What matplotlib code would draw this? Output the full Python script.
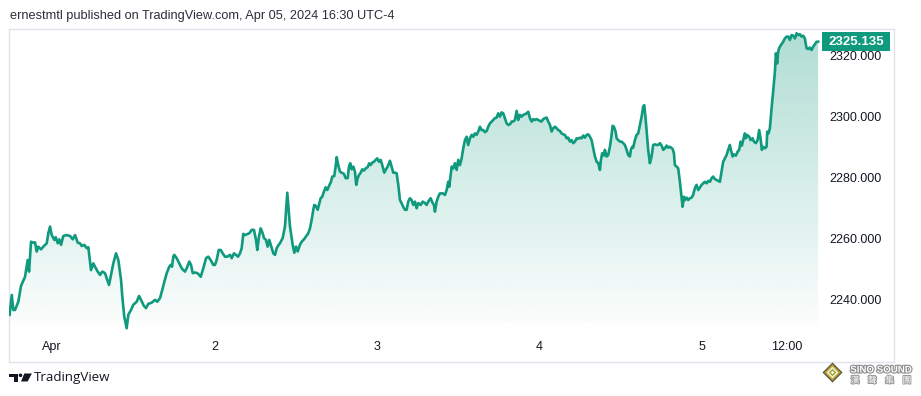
import numpy as np
import matplotlib
matplotlib.use("Agg")
import matplotlib.pyplot as plt
import matplotlib.transforms as mtransforms
from matplotlib.patches import Polygon, Circle, Rectangle
import matplotlib.patheffects as pe

# trading hours since the session open (Mar 31 18:00 ET), 23 trading hours per day
hours = [
    0.0, 0.30, 0.52, 0.76, 1.23, 1.61, 2.18, 2.56, 2.75, 3.03, 3.35, 3.60, 3.84, 4.06, 4.44, 4.77,
    5.25, 5.48, 5.72, 5.96, 6.33, 6.53, 6.81, 7.03, 7.28, 7.60, 8.08, 8.55, 8.93, 9.26, 9.64, 9.96,
    10.21, 10.57, 10.91, 11.14, 11.52, 11.85, 12.09, 12.47, 12.80, 13.12, 13.50, 13.74, 14.07, 14.35,
    14.68, 15.06, 15.39, 15.77, 15.95, 16.23, 16.57, 16.80, 17.18, 17.51, 17.75, 17.99, 18.32, 18.60,
    19.02, 19.31, 19.63, 20.11, 20.58, 20.91, 21.29, 21.67,
    21.85, 22.24, 22.60, 22.80, 22.99, 23.17, 23.31, 23.65, 24.02, 24.36, 24.59, 24.83, 25.07, 25.43,
    25.68, 25.92, 26.24, 26.57, 26.85, 27.05, 27.42, 27.80, 28.12, 28.46, 28.83, 29.07, 29.31, 29.60,
    29.88, 30.16, 30.49, 30.81, 31.20, 31.44, 31.76, 32.04, 32.33, 32.61, 32.85, 33.08, 33.32, 33.64,
    33.93, 34.27, 34.59, 34.88, 35.06, 35.30, 35.54, 35.82, 36.01, 36.29, 36.53, 36.76, 37.10, 37.33,
    37.57, 37.81, 38.09,
    38.27, 38.65, 38.98, 39.31, 39.69, 40.07, 40.30, 40.54, 40.78, 41.10, 41.34, 41.67, 41.95, 42.28,
    42.52, 42.76, 42.99, 43.13, 43.33, 43.61, 43.79,
    44.03, 44.26, 44.50, 44.74, 44.97, 45.21, 45.49, 45.68, 45.96, 46.16, 46.30, 46.52, 46.77, 47.01,
    47.33, 47.57, 47.86, 48.04, 48.22, 48.42, 48.65, 48.89, 49.07, 49.27, 49.45, 49.70, 49.92, 50.16,
    50.40, 50.69, 50.91, 51.11, 51.34, 51.58, 51.82, 52.05, 52.29, 52.53, 52.75, 53.04, 53.28, 53.52,
    53.84, 54.08, 54.31, 54.55, 54.79, 55.02, 55.26, 55.50, 55.72, 55.97, 56.21, 56.43,
    56.67, 56.91, 57.14, 57.38, 57.62, 57.85, 58.19, 58.47, 58.80, 59.04, 59.26, 59.60, 59.89, 60.07,
    60.21, 60.45, 60.68, 60.92, 61.30, 61.63, 61.87, 62.09, 62.24, 62.43, 62.58, 62.80, 63.04, 63.28,
    63.51, 63.75, 63.99, 64.22, 64.46, 64.70, 64.92, 65.17, 65.41, 65.63, 65.87, 66.11, 66.34, 66.58,
    66.82, 67.05, 67.29, 67.53, 67.76, 68.00, 68.24, 68.46, 68.70, 68.94, 69.17, 69.41, 69.65, 69.88,
    70.12, 70.36, 70.59, 70.83, 71.07, 71.29, 71.53, 71.78, 72.00, 72.24, 72.48, 72.71, 72.95, 73.19,
    73.42, 73.66, 73.90, 74.13, 74.37, 74.61, 74.83, 75.07, 75.31, 75.54, 75.78,
    76.02, 76.25, 76.49, 76.73, 76.96, 77.20, 77.44, 77.66, 77.90, 78.14, 78.37, 78.61, 78.85, 79.08,
    79.32, 79.56, 79.79, 80.03, 80.27, 80.49, 80.73, 80.98, 81.20, 81.44, 81.68, 81.91, 82.15, 82.39,
    82.62, 82.86, 83.10, 83.33, 83.57, 83.71, 83.89, 84.13, 84.27, 84.51, 84.74, 84.98, 85.22, 85.36,
    85.55, 85.79, 85.93, 86.16, 86.40, 86.64, 86.86, 87.10, 87.35, 87.57, 87.81, 87.95, 88.14, 88.28,
    88.52, 88.76, 88.99, 89.23, 89.47, 89.69, 89.84, 90.03, 90.18, 90.40, 90.64, 90.88, 91.11, 91.35,
    91.59, 91.82, 92.06, 92.30, 92.53, 92.77, 93.01, 93.23, 93.47,
    93.86, 94.04, 94.18, 94.42, 94.65, 94.89, 95.13, 95.27, 95.46, 95.60, 95.84, 96.06, 96.30, 96.55,
    96.77, 97.01, 97.25, 97.48, 97.72, 97.96, 98.19, 98.43, 98.67, 98.90, 99.14, 99.38, 99.60, 99.84,
    100.08, 100.31, 100.55, 100.79, 101.02, 101.26, 101.50, 101.73, 101.97, 102.11, 102.35, 102.53,
    102.82, 103.06, 103.28, 103.48, 103.66, 103.85, 104.09, 104.23, 104.41, 104.70, 104.90, 105.18,
    105.36, 105.65, 105.89, 106.11, 106.31, 106.49, 106.68, 106.92, 107.16, 107.25, 107.44, 107.63,
    107.87, 108.09, 108.34, 108.48, 108.66, 108.80, 108.94, 109.18, 109.51, 109.75, 109.99, 110.22,
    110.46, 110.70, 110.93, 111.17, 111.41, 111.63, 111.87, 112.11, 112.34, 112.58, 112.82, 113.05,
    113.29, 113.53, 113.76, 114.00, 114.24, 114.46,
]

prices = [
    2235.4, 2241.9, 2237.0, 2237.0, 2239.7, 2244.9, 2247.9, 2253.4, 2249.6, 2259.4, 2259.1, 2259.2, 2256.2, 2257.8, 2256.9, 2257.8,
    2258.9, 2262.2, 2264.4, 2261.6, 2260.0, 2260.9, 2258.9, 2260.2, 2258.4, 2261.3, 2261.6, 2261.3, 2260.2, 2261.6, 2259.1, 2258.9,
    2258.0, 2258.4, 2257.3, 2257.6, 2250.1, 2252.3, 2251.2, 2249.6, 2248.5, 2249.6, 2249.1, 2247.4, 2245.2, 2248.5,
    2252.3, 2255.6, 2253.4, 2246.9, 2241.4, 2234.8, 2231.0, 2235.4, 2237.0, 2238.7, 2239.2, 2239.7, 2241.6, 2240.3,
    2238.3, 2237.6, 2239.0, 2239.4, 2240.3, 2239.7, 2240.9, 2244.1,
    2245.8, 2249.1, 2251.2, 2251.8, 2251.2, 2254.5, 2255.1, 2254.0, 2252.3, 2250.7, 2250.1, 2249.6, 2250.7, 2252.9,
    2251.8, 2249.1, 2249.3, 2249.1, 2248.5, 2247.9, 2250.7, 2254.0, 2254.5, 2253.4, 2251.8, 2251.8, 2253.4, 2256.7,
    2256.7, 2255.6, 2254.5, 2254.5, 2255.1, 2254.0, 2255.6, 2255.1, 2254.5, 2255.6, 2257.3, 2262.0, 2261.6, 2261.9,
    2262.2, 2263.3, 2263.3, 2260.0, 2256.7, 2261.1, 2263.8, 2262.2, 2260.6, 2260.0, 2257.8, 2260.0, 2257.3, 2255.6,
    2255.1, 2257.3, 2258.4,
    2258.9, 2260.6, 2264.4, 2275.5, 2264.4, 2258.4, 2255.8, 2257.8, 2256.2, 2258.4, 2259.4, 2260.2, 2261.1, 2262.2,
    2263.8, 2266.6, 2269.9, 2271.5, 2271.2, 2269.9, 2271.5,
    2273.7, 2274.2, 2275.9, 2277.3, 2276.4, 2277.7, 2279.1, 2280.8, 2281.0, 2284.3, 2287.2, 2284.6, 2282.4, 2282.1,
    2281.7, 2280.3, 2280.3, 2284.1, 2285.2, 2283.2, 2284.1, 2282.4, 2278.1, 2280.3, 2281.3, 2282.1, 2283.2, 2282.8,
    2283.5, 2283.9, 2285.2, 2284.6, 2285.4, 2285.7, 2286.3, 2286.8, 2285.7, 2286.3, 2284.6, 2282.1, 2283.2, 2284.1,
    2286.0, 2284.1, 2282.1, 2282.1, 2281.9, 2278.1, 2273.1, 2272.0, 2270.9, 2269.9, 2269.9, 2272.6,
    2273.7, 2273.1, 2271.5, 2272.6, 2270.4, 2272.1, 2271.5, 2272.6, 2272.1, 2271.5, 2272.6, 2273.7, 2272.1, 2271.5,
    2269.3, 2272.6, 2274.2, 2275.3, 2275.3, 2274.8, 2276.4, 2279.1, 2277.5, 2281.3, 2284.1, 2283.5, 2285.2, 2283.0,
    2286.3, 2284.6, 2286.8, 2290.1, 2292.8, 2293.9, 2291.2, 2293.4, 2294.5, 2293.9, 2295.0, 2294.5, 2295.6, 2297.2,
    2296.1, 2296.1, 2295.4, 2295.8, 2297.2, 2298.3, 2298.9, 2299.4, 2300.0, 2300.2, 2301.6, 2300.5, 2301.9, 2301.6,
    2300.0, 2298.3, 2297.8, 2298.0, 2298.9, 2298.9, 2299.4, 2302.4, 2299.4, 2301.1, 2300.5, 2301.1, 2301.3, 2301.6,
    2302.1, 2300.0, 2298.9, 2299.7, 2299.4, 2299.7, 2299.4, 2299.1, 2298.9, 2299.7, 2300.0,
    2300.2, 2298.9, 2297.8, 2295.6, 2296.7, 2297.2, 2296.7, 2296.1, 2295.8, 2295.0, 2294.7, 2294.5, 2293.4, 2293.6,
    2292.3, 2292.8, 2291.8, 2292.3, 2293.4, 2293.2, 2293.6, 2293.4, 2294.3, 2293.6, 2294.5, 2294.7, 2293.9, 2292.8,
    2290.1, 2287.4, 2285.7, 2285.2, 2283.0, 2286.3, 2288.5, 2287.7, 2289.6, 2287.4, 2287.9, 2290.6, 2294.5, 2297.5,
    2297.2, 2295.6, 2293.4, 2292.8, 2292.3, 2292.3, 2291.8, 2291.2, 2289.6, 2287.9, 2287.4, 2289.6, 2290.6, 2290.3,
    2292.8, 2294.5, 2295.0, 2297.8, 2300.5, 2303.8, 2304.3, 2300.0, 2295.6, 2289.6, 2285.2, 2287.4, 2291.2, 2291.4,
    2291.2, 2291.2, 2291.8, 2291.0, 2289.6, 2290.1, 2291.0, 2290.3, 2290.6,
    2289.9, 2288.5, 2284.6, 2284.1, 2283.5, 2279.1, 2273.7, 2270.9, 2274.2, 2273.1, 2273.9, 2273.1, 2273.7, 2273.9,
    2274.8, 2277.0, 2278.1, 2276.4, 2277.2, 2278.1, 2278.6, 2279.1, 2278.6, 2279.4, 2279.1, 2280.3, 2280.8, 2280.0,
    2279.7, 2279.4, 2279.1, 2282.4, 2285.7, 2286.8, 2287.9, 2289.6, 2291.2, 2289.6, 2287.4, 2288.1,
    2287.7, 2289.0, 2289.6, 2292.3, 2291.0, 2292.8, 2295.0, 2293.4, 2294.5, 2293.9, 2292.8, 2293.4,
    2292.3, 2291.8, 2292.8, 2296.1, 2293.4, 2289.6, 2290.6, 2290.1, 2290.6, 2295.6, 2295.0, 2296.7,
    2303.3, 2308.7, 2315.3, 2321.3, 2318.0, 2321.8, 2323.0, 2324.0, 2325.1, 2326.2, 2326.8, 2326.8,
    2325.7, 2327.3, 2327.1, 2326.2, 2327.9, 2327.3, 2327.6, 2326.8, 2327.1, 2326.2, 2323.0, 2322.7,
    2323.2, 2322.4, 2323.5, 2324.3, 2325.1, 2325.135,
]

tick_hours = [6, 29, 52, 75, 98, 110]
tick_labels = ["Apr", "2", "3", "4", "5", "12:00"]
price_ticks = [2240, 2260, 2280, 2300, 2320]
last_price = prices[-1]

title = "ernestmtl published on TradingView.com, Apr 05, 2024 16:30 UTC-4"

green = "#0f997d"
text_col = "#131722"
frame_col = "#e0e3eb"

W, H = 921, 396
fig = plt.figure(figsize=(W / 100, H / 100), dpi=100)
fig.patch.set_facecolor("white")

# main chart pane
ax = fig.add_axes([8.5 / W, (H - 361.7) / H, (894 - 8.5) / W, (361.7 - 29.3) / H])
for s in ax.spines.values():
    s.set_color(frame_col)
    s.set_linewidth(1)
ax.set_xticks([])
ax.set_yticks([])

x = np.array(hours)
y = np.array(prices)
base = 2232.6

# gradient area under the line
poly = ax.fill_between(x, y, base, color="none", lw=0)
grad = np.zeros((256, 1, 4))
grad[:, 0, 0:3] = matplotlib.colors.to_rgb(green)
grad[:, 0, 3] = np.linspace(0.02, 0.33, 256)
img = ax.imshow(grad, aspect="auto", origin="lower",
                extent=[x.min(), x.max(), base, y.max()], zorder=1)
img.set_clip_path(poly.get_paths()[0], transform=ax.transData)

ax.plot(x, y, color=green, lw=1.9, zorder=3, solid_joinstyle="round")
ax.set_xlim(-0.16, 125.2)
ax.set_ylim(2220.0, 2329.2)

# price scale labels
ytrans = mtransforms.blended_transform_factory(ax.transAxes, ax.transData)
for p in price_ticks:
    ax.text(0.986, p, f"{p:.3f}", transform=ytrans, ha="right", va="center",
            fontsize=9, color=text_col, family="Liberation Sans")

# last price marker on the scale
ax.add_patch(Rectangle((0.9183, last_price - 3.12), 0.0772, 6.24, transform=ytrans,
                       fc=green, ec="none", zorder=5, clip_on=False))
ax.text(0.957, last_price, f"{last_price:.3f}", transform=ytrans, ha="center", va="center",
        fontsize=9.5, color="white", family="Liberation Sans", fontweight="bold", zorder=6)

# time scale labels
xtrans = mtransforms.blended_transform_factory(ax.transData, ax.transAxes)
for h, lab in zip(tick_hours, tick_labels):
    ax.text(h, 0.044, lab, transform=xtrans, ha="center", va="center",
            fontsize=9, color=text_col, family="Liberation Sans")

# decorations in pixel space
deco = fig.add_axes([0, 0, 1, 1], zorder=10)
deco.set_xlim(0, W)
deco.set_ylim(H, 0)
deco.axis("off")

deco.text(10, 16, title, ha="left", va="center", fontsize=9.2, color="#2a2e39",
          family="Liberation Sans")

# TradingView logo + name
deco.add_patch(Polygon([(9.3, 373.5), (18.0, 373.5), (18.0, 381.5), (14.0, 381.5),
                        (14.0, 377.0), (9.3, 377.0)], closed=True, fc=text_col, ec="none"))
deco.add_patch(Circle((20.5, 375.3), 1.8, fc=text_col, ec="none"))
deco.add_patch(Polygon([(24.3, 373.5), (31.9, 373.5), (27.6, 381.5), (21.0, 381.5)],
                       closed=True, fc=text_col, ec="none"))
deco.text(34, 377.5, "TradingView", ha="left", va="center", fontsize=9.6,
          color=text_col, family="Open Sans")

# SINO SOUND watermark
cx, cy = 832.5, 372.5
for r, c in [(10, "#4d4a3a"), (8.5, "#b39a2e"), (6, "#f2efd8"), (3.8, "#a9ad3e"), (1.6, "#ffffff")]:
    deco.add_patch(Polygon([(cx, cy - r), (cx + r, cy), (cx, cy + r), (cx - r, cy)],
                           closed=True, fc=c, ec="none"))
deco.text(881, 369.5, "SINO SOUND", ha="center", va="center", fontsize=7,
          fontweight="bold", color="white", family="Liberation Sans",
          path_effects=[pe.withStroke(linewidth=1.6, foreground="#8a8a8a")])
for i, ch in enumerate("漢聲集團"):
    deco.text(855 + i * 17.3, 380.5, ch, ha="center", va="center", fontsize=6.3,
              color="white", family=["Noto Sans CJK TC", "DejaVu Sans"],
              path_effects=[pe.withStroke(linewidth=1.4, foreground="#9a9a9a")])

fig.savefig("out.png", dpi=100, facecolor="white")
